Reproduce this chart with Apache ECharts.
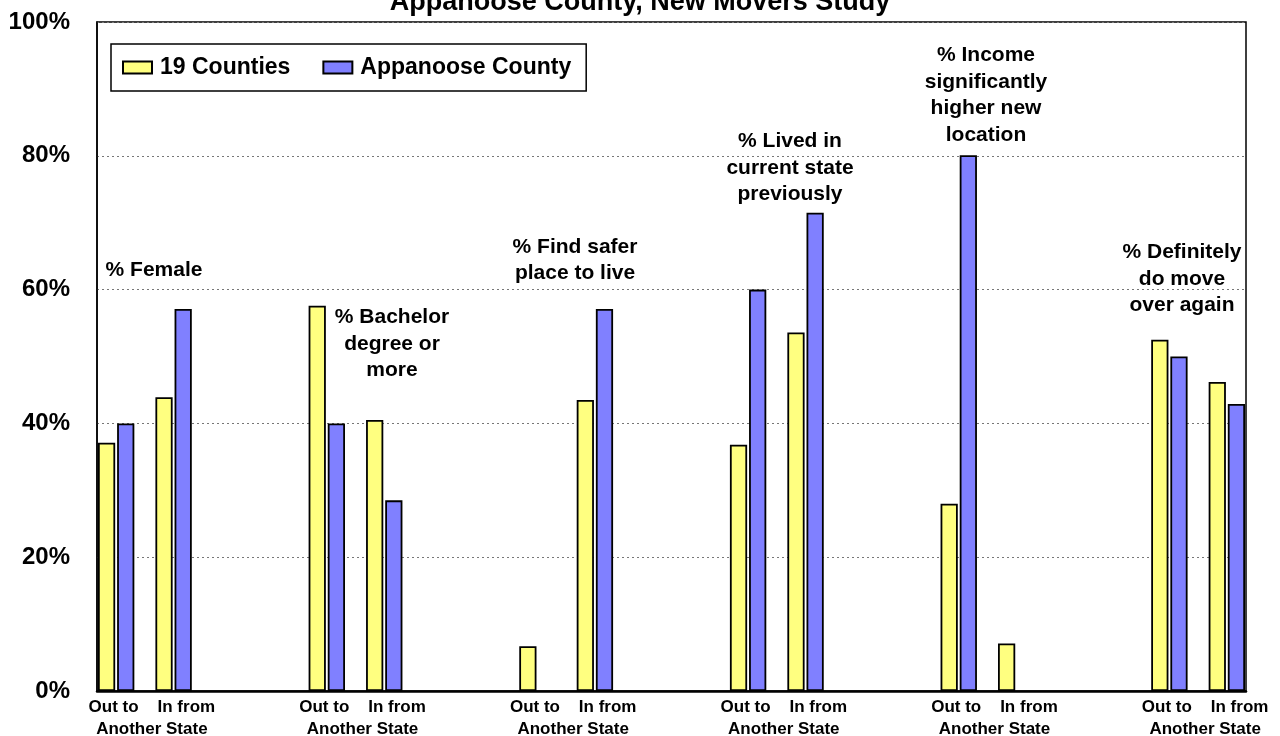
<!DOCTYPE html>
<html>
<head>
<meta charset="utf-8">
<script src="https://cdn.jsdelivr.net/npm/echarts@6/dist/echarts.min.js"></script>
<style>
  html, body { margin: 0; padding: 0; background: #fff; }
  #chart { width: 1280px; height: 736px; }
</style>
</head>
<body>
<div id="chart"></div>
<script>
// data
var groupNames = ['% Female', '% Bachelor\ndegree or\nmore', '% Find safer\nplace to live',
  '% Lived in\ncurrent state\npreviously', '% Income\nsignificantly\nhigher new\nlocation',
  '% Definitely\ndo move\nover again'];
var pairLabel = 'Out to    In from\nAnother State';
var seriesNames = ['19 Counties', 'Appanoose County'];
var countiesOut = [37.1, 57.6, 6.7, 36.8, 28.0, 52.5];
var countiesIn = [43.9, 40.5, 43.5, 53.6, 7.1, 46.2];
var appanooseOut = [40.0, 40.0, null, 60.0, 80.1, 50.0];
var appanooseIn = [57.1, 28.5, 57.1, 71.5, null, 42.9];
var yTicks = [0, 20, 40, 60, 80, 100];

// slot layout: each group is Y B _ Y B then 6 empty slots
var slotsPerGroup = 11;
var nSlots = slotsPerGroup * 5 + 5;
var slotLabels = [], yellow = [], blue = [];
for (var i = 0; i < nSlots; i++) { slotLabels.push(''); yellow.push(null); blue.push(null); }
for (var g = 0; g < groupNames.length; g++) {
  var b = g * slotsPerGroup;
  yellow[b] = countiesOut[g];
  blue[b + 1] = appanooseOut[g];
  slotLabels[b + 2] = pairLabel;
  yellow[b + 3] = countiesIn[g];
  blue[b + 4] = appanooseIn[g];
}

// annotation text centres (pixels)
var notePos = [[154, 270], [392, 344], [575, 260], [790, 168], [986, 95], [1182, 279]];

var font = '"Liberation Sans", Arial, sans-serif';
var chart = echarts.init(document.getElementById('chart'));

var option = {
  animation: false,
  title: {
    text: 'Appanoose County, New Movers Study',
    left: 'center', top: -11, padding: 0,
    textStyle: { fontFamily: font, fontSize: 27, fontWeight: 'bold', color: '#000' }
  },
  legend: {
    data: seriesNames,
    icon: 'rect',
    left: 111, top: 44,
    padding: [12, 15, 12, 11],
    itemWidth: 29, itemHeight: 12, itemGap: 32,
    borderColor: '#000', borderWidth: 1.5,
    textStyle: { fontFamily: font, fontSize: 23, fontWeight: 'bold', color: '#000', padding: [0, 0, 0, 3] }
  },
  grid: {
    left: 97, right: 34, top: 22, bottom: 45,
    outerBoundsMode: 'none',
    show: true, borderColor: '#000', borderWidth: 1.5
  },
  xAxis: {
    type: 'category',
    data: slotLabels,
    axisLine: { lineStyle: { color: '#000', width: 2.5 } },
    axisTick: { show: false },
    axisLabel: {
      interval: 0, margin: 5, padding: [0, 0, 0, 14],
      fontFamily: font, fontSize: 17, fontWeight: 'bold', color: '#000', lineHeight: 22
    }
  },
  yAxis: {
    type: 'value', min: yTicks[0], max: yTicks[yTicks.length - 1], interval: 20,
    axisLine: { show: true, lineStyle: { color: '#000', width: 1.5 } },
    axisTick: { show: false },
    splitLine: { lineStyle: { type: [2, 3], color: '#777', width: 1 } },
    axisLabel: {
      formatter: '{value}%', margin: 27,
      fontFamily: font, fontSize: 24, fontWeight: 'bold', color: '#000'
    }
  },
  series: [
    {
      name: seriesNames[0], type: 'bar', data: yellow,
      barGap: '-100%', barCategoryGap: '10%',
      itemStyle: { color: '#FFFF80', borderColor: '#000', borderWidth: 1.8 }
    },
    {
      name: seriesNames[1], type: 'bar', data: blue,
      barGap: '-100%', barCategoryGap: '10%',
      itemStyle: { color: '#8080FF', borderColor: '#000', borderWidth: 1.8 }
    }
  ],
  graphic: groupNames.map(function (t, k) {
    return {
      type: 'text', x: notePos[k][0], y: notePos[k][1],
      style: {
        text: t, fill: '#000', align: 'center', verticalAlign: 'middle',
        font: 'bold 21px ' + font, lineHeight: 26.5
      }
    };
  })
};

chart.setOption(option);
</script>
</body>
</html>
